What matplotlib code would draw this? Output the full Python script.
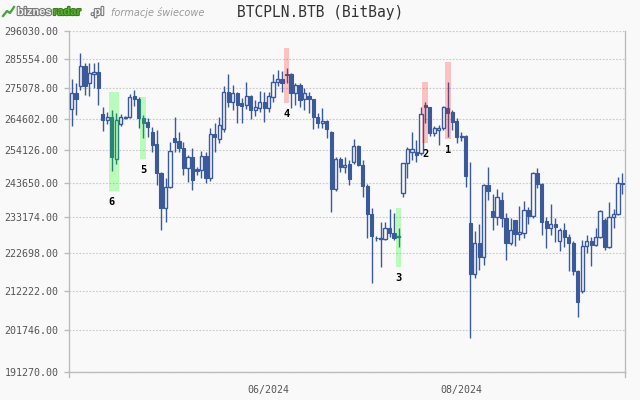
import matplotlib
matplotlib.use('Agg')
import matplotlib.pyplot as plt
import matplotlib.patheffects as pe
from matplotlib.lines import Line2D
from matplotlib.ticker import FuncFormatter, NullLocator
import numpy as np
import pandas as pd

# ~~~~~~~~~~~~ data (daily candles, business days) ~~~~~~~~~~~~
dates = pd.bdate_range('2024-04-02', periods=124)

opens = [267900, 273400, 275900, 283100, 277000, 280200, 280900, 266200, 264100, 265200,
         251300, 262800, 264800, 265200, 272400, 271300, 264800, 263500, 260100, 256100,
         246800, 236000, 242400, 258100, 257100, 254800, 248400, 251900, 248100, 247800,
         252200, 245200, 259400, 257800, 261100, 273800, 270300, 273400, 270000, 269300,
         272400, 267500, 268200, 270300, 268200, 272000, 277300, 278400, 280200, 280200,
         273400, 276300, 271300, 272400, 271300, 265200, 263100, 263800, 260100, 241800,
         251300, 248700, 249700, 250300, 255500, 249300, 242700, 234200, 227100, 226900,
         226800, 230000, 228500, 227400, 240600, 250000, 253500, 253500, 253200, 269300,
         268600, 259800, 260800, 261400, 268200, 266900, 263800, 258500, 258800, 231500,
         216900, 225600, 221600, 243000, 235100, 233300, 238400, 233000, 225600, 232400,
         228300, 228500, 235400, 233600, 246800, 243400, 232100, 230000, 231200, 226200,
         229400, 227400, 225600, 217700, 212200, 224800, 226200, 225100, 227400, 232400,
         224500, 233300, 234200, 243700]
highs = [278400, 277000, 287800, 284100, 284100, 284100, 284500, 268600, 266900, 267500,
         266500, 266200, 265500, 273100, 274500, 272000, 265800, 264800, 261800, 260800,
         247100, 245200, 256800, 265200, 260100, 256800, 252600, 254800, 248700, 253900,
         253500, 261400, 263100, 265200, 275900, 280200, 276300, 273800, 271700, 277300,
         272700, 271000, 274100, 273800, 273800, 280200, 281600, 281200, 282300, 280500,
         277000, 277000, 275200, 273800, 271500, 266500, 268200, 264000, 260400, 251900,
         251900, 251900, 250900, 257800, 255800, 250900, 243400, 236000, 227700, 231800,
         231800, 235700, 234500, 230000, 250100, 255200, 260100, 257500, 268600, 270300,
         268700, 262100, 262500, 268900, 277300, 267500, 264800, 260100, 259000, 250300,
         229100, 231200, 243200, 248700, 240300, 241800, 240900, 234500, 233000, 232500,
         236600, 238100, 236300, 247000, 248400, 243700, 233300, 237200, 233000, 230000,
         231500, 228300, 226200, 217900, 226500, 228000, 227400, 230000, 235400, 233000,
         237800, 235700, 245500, 246800]
lows = [262100, 265800, 274500, 272700, 272400, 275200, 269300, 260400, 262800, 247400,
        249700, 262100, 264500, 264800, 268900, 261400, 258100, 258500, 253500, 243000,
        229400, 231800, 242100, 253500, 253500, 246200, 244000, 241500, 246200, 245200,
        243700, 244300, 253500, 256500, 260100, 268600, 267500, 263100, 263100, 267900,
        264500, 265500, 266900, 263500, 266900, 270300, 275900, 273800, 277000, 268200,
        269300, 268600, 267500, 266500, 261100, 261400, 261400, 258100, 234800, 241200,
        247100, 246800, 243000, 249700, 249000, 239300, 227100, 214400, 226200, 218800,
        226500, 227400, 226500, 224500, 239300, 245200, 250900, 250300, 252600, 263100,
        258800, 258800, 255800, 260800, 258500, 260800, 256500, 257100, 242400, 199800,
        215800, 218000, 219400, 238400, 229400, 230900, 230300, 220800, 225100, 224800,
        226500, 227100, 231200, 233000, 242100, 228000, 224200, 228000, 225900, 223300,
        224500, 217700, 216600, 205200, 211600, 222800, 219100, 224800, 227100, 223600,
        224200, 230000, 233900, 240300]
closes = [273400, 271300, 283100, 275900, 280500, 280900, 275200, 264100, 265200, 251900,
          264100, 265200, 265200, 272000, 271300, 264800, 263100, 261800, 255800, 246800,
          236000, 242400, 253900, 256800, 254800, 248400, 251900, 244600, 247400, 252200,
          245200, 259400, 258500, 262500, 273800, 270300, 273400, 269300, 268900, 272400,
          267500, 268600, 270300, 268200, 272400, 277300, 278400, 277000, 279900, 273400,
          276300, 271000, 273400, 271300, 265200, 263100, 263800, 261100, 241800, 251300,
          248700, 249300, 244900, 255500, 249300, 242700, 234200, 227700, 227000, 227100,
          230000, 228500, 227100, 227500, 250000, 254500, 254500, 252600, 266200, 268400,
          259800, 261400, 261400, 268600, 266500, 263500, 258500, 258700, 245900, 216900,
          225600, 221600, 243000, 241200, 233300, 239300, 233000, 225600, 229400, 228300,
          228800, 235400, 233600, 246800, 243400, 231800, 230000, 231200, 230300, 229400,
          227400, 225600, 217700, 209200, 224800, 226200, 225100, 227400, 235100, 224500,
          233300, 234200, 243700, 243400]

yticks = [191270, 201746, 212222, 222698, 233174, 243650, 254126, 264602, 275078, 285554, 296030]
xtick_months = ['2024-06', '2024-08']

# candlestick patterns found on the chart
pattern_labels = ['1', '2', '3', '4', '5', '6']
pattern_start = [84, 79, 73, 48, 16, 9]
pattern_end = [84, 79, 73, 48, 16, 10]
pattern_top = [284500, 277300, 236000, 289600, 272000, 273800]
pattern_bottom = [257900, 256600, 218900, 270100, 251400, 241300]
pattern_bullish = [False, False, True, False, True, True]

# ~~~~~~~~~~~~ style ~~~~~~~~~~~~
bg = '#f9f9f9'
blue = '#3a5a9b'
axis_col = '#bcbcbc'
mono = 'DejaVu Sans Mono'

fig = plt.figure(figsize=(6.4, 4.0), dpi=100, facecolor=bg)
ax = fig.add_axes([69 / 640, 28 / 400, 556 / 640, 341 / 400], facecolor=bg)

o = np.array(opens, dtype=float)
h = np.array(highs, dtype=float)
l = np.array(lows, dtype=float)
c = np.array(closes, dtype=float)
idx = np.arange(len(o))
up = c >= o

body_low = np.minimum(o, c)
body_h = np.maximum(np.abs(c - o), 150)

ax.vlines(idx, l, h, color=blue, lw=1.0, zorder=2)
ax.bar(idx[~up], body_h[~up], bottom=body_low[~up], width=0.72,
       color=blue, edgecolor=blue, lw=0.8, zorder=3)
ax.bar(idx[up], body_h[up], bottom=body_low[up], width=0.72,
       facecolor=bg, edgecolor=blue, lw=1.0, zorder=3)

# pattern highlights
for lab, s, e, top, bot, bull in zip(pattern_labels, pattern_start, pattern_end,
                                     pattern_top, pattern_bottom, pattern_bullish):
    col = (0, 1, 0) if bull else (1, 0, 0)
    alpha = 0.25 if bull else 0.22
    ax.bar((s + e) / 2, top - bot, bottom=bot, width=e - s + 1.3,
           color=col, alpha=alpha, lw=0, zorder=4)
    ax.annotate(lab, xy=(s, bot), xytext=(0, -8.5), textcoords='offset points',
                ha='center', va='center', family=mono, fontweight='bold',
                fontsize=7.5, color='black', zorder=5)

# axes
ax.set_yscale('log')
ax.set_ylim(191270, 296030)
ax.set_xlim(-0.56, len(o) - 1 + 0.56)
ax.set_yticks(yticks)
ax.yaxis.set_minor_locator(NullLocator())
ax.yaxis.set_major_formatter(FuncFormatter(lambda v, p: f'{v:.2f}'))

xt = [int(np.argmax(dates.strftime('%Y-%m') == m)) for m in xtick_months]
ax.set_xticks(xt)
ax.set_xticklabels([dates[i].strftime('%m/%Y') for i in xt])

ax.grid(axis='y', linestyle=(0, (1.5, 1.5)), color='#c8c8c8', lw=0.8, zorder=0)
ax.set_axisbelow(True)

for side in ['left', 'bottom', 'right']:
    ax.spines[side].set_color(axis_col)
    ax.spines[side].set_linewidth(1.0)
ax.spines['top'].set_visible(False)

ax.tick_params(axis='y', length=3.6, width=1.0, color=axis_col, pad=4,
               labelsize=7.2, labelcolor='#555555')
ax.tick_params(axis='x', length=0, pad=9, labelsize=7.2, labelcolor='#555555')
for t in ax.get_yticklabels() + ax.get_xticklabels():
    t.set_family(mono)

# short extensions of the side lines below the bottom axis
for xx in (0, 1):
    ax.plot([xx, xx], [0, -5 / 341], transform=ax.transAxes, clip_on=False,
            color=axis_col, lw=1.0)

# header: logo, subtitle, title
fig.add_artist(Line2D([3 / 640, 7 / 640, 10 / 640, 14 / 640],
                      [1 - 16 / 400, 1 - 11 / 400, 1 - 13 / 400, 1 - 7 / 400],
                      color='#3fa535', lw=1.6))
outline = [pe.withStroke(linewidth=1.6, foreground='#7a7a7a')]
fig.text(17 / 640, 1 - 12 / 400, 'biznes', ha='left', va='center', fontsize=8,
         fontweight='bold', family='Liberation Sans', color='#f2f2f2', path_effects=outline)
fig.text(53 / 640, 1 - 12 / 400, 'radar', ha='left', va='center', fontsize=8,
         fontweight='bold', family='Liberation Sans', color='#55b030',
         path_effects=[pe.withStroke(linewidth=1.6, foreground='#3d7a22')])
fig.text(91 / 640, 1 - 12 / 400, '.pl', ha='left', va='center', fontsize=8,
         fontweight='bold', family='Liberation Sans', color='#f2f2f2', path_effects=outline)
fig.text(111 / 640, 1 - 12 / 400, 'formacje świecowe', ha='left', va='center',
         fontsize=7, style='italic', color='#9a9a9a')
fig.text(0.5, 1 - 13 / 400, 'BTCPLN.BTB (BitBay)', ha='center', va='center',
         family=mono, fontsize=10.5, color='#333333')

plt.savefig('out.png', dpi=100, facecolor=bg)
